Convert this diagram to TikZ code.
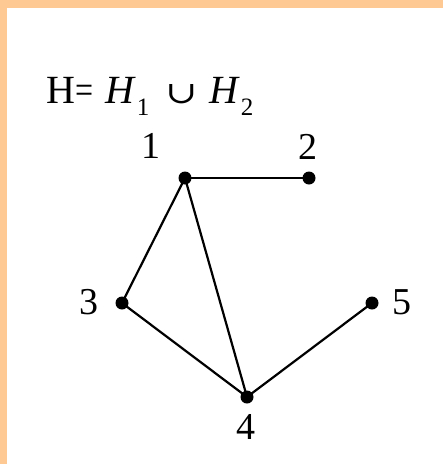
\documentclass[tikz,border=0pt]{standalone}
\usepackage{fontspec}
\setmainfont{Liberation Serif}
\newfontfamily\symfont{DejaVu Serif}
\usepackage{graphicx}

\newcommand{\subdigit}[1]{\raisebox{-12pt}{\fontsize{25}{26}\selectfont #1}}

\begin{document}
\begin{tikzpicture}[x=1pt, y=-1pt,
    vertex/.style={circle, fill=black, inner sep=0pt, minimum size=13pt},
    vlabel/.style={inner sep=0pt, font=\fontsize{38}{40}\selectfont},
    edge/.style={black, line width=2.2pt}]

    % 色の設定
    \definecolor{peach}{RGB}{255, 201, 148}

    % 枠と背景
    \fill[peach] (0,0) rectangle (443,464);
    \fill[white] (7,8) rectangle (443,464);
    \useasboundingbox (0,0) rectangle (443,464);

    % タイトル
    \node[anchor=base west, inner sep=0pt, font=\fontsize{40}{44}\selectfont] (title) at (46,103)
        {H\scalebox{0.8}[1]{=}\hspace{12pt}\textit{H}\hspace{1pt}\subdigit{1}\hspace{16pt}\resizebox{32pt}{19pt}{\symfont ∪}\hspace{12pt}\textit{H}\hspace{1pt}\subdigit{2}};

    % 頂点
    \node[vertex] (v1) at (185,178) {};
    \node[vertex] (v2) at (309,178) {};
    \node[vertex] (v3) at (122,303) {};
    \node[vertex] (v4) at (247,397) {};
    \node[vertex] (v5) at (372,303) {};

    % 頂点の番号
    \node[vlabel] (l1) at (151,146) {1};
    \node[vlabel] (l2) at (308,147) {2};
    \node[vlabel] (l3) at (89,302) {3};
    \node[vlabel] (l4) at (246,427) {4};
    \node[vlabel] (l5) at (402,302) {5};

    % 辺
    \draw[edge] (v1.center) -- (v2.center);
    \draw[edge] (v1.center) -- (v3.center);
    \draw[edge] (v1.center) -- (v4.center);
    \draw[edge] (v3.center) -- (v4.center);
    \draw[edge] (v4.center) -- (v5.center);

\end{tikzpicture}
\end{document}
